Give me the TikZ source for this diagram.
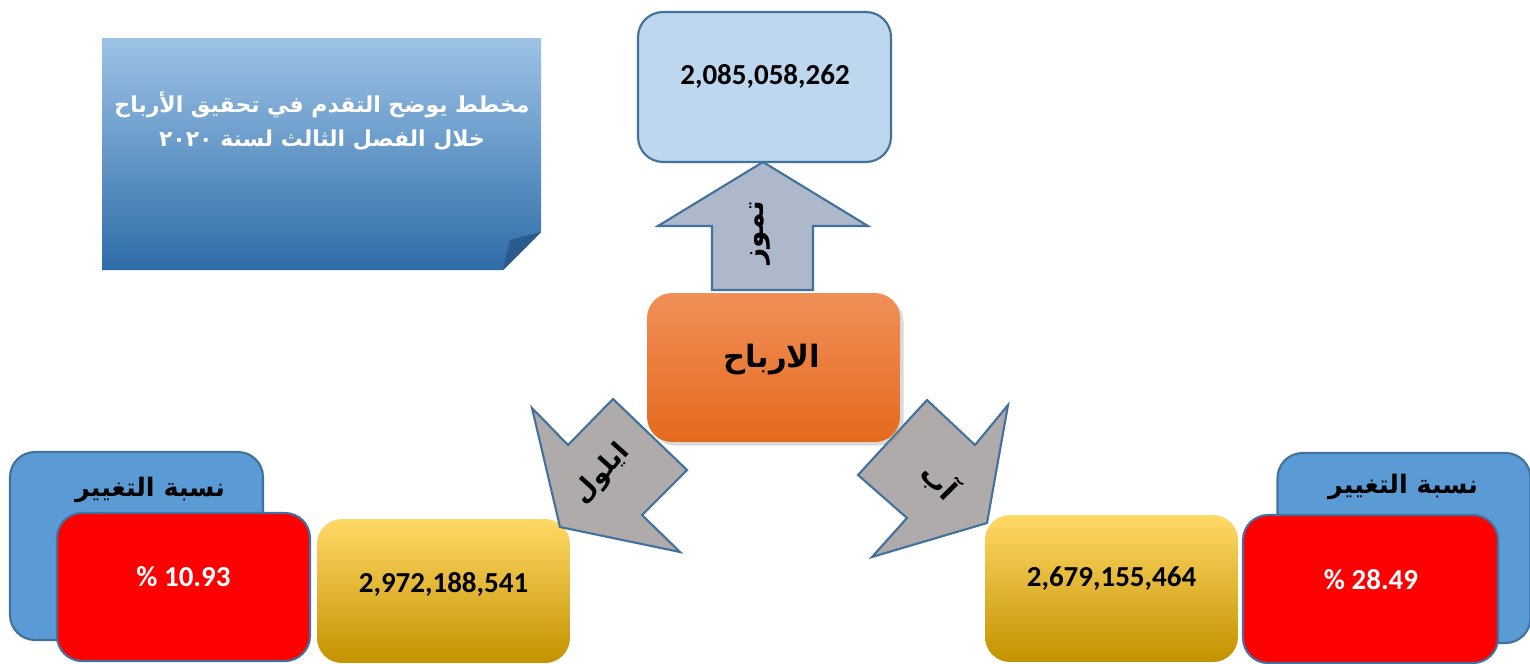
\documentclass[tikz,border=0pt]{standalone}
\usepackage{fontspec}
\setmainfont{Carlito}
\newfontfamily\arabicfont[Script=Arabic]{DejaVu Sans}
\TeXXeTstate=1
\usetikzlibrary{shadows}
\definecolor{edgeblue}{RGB}{65,113,156}
\definecolor{paleblue}{RGB}{189,215,238}
\definecolor{tagblue}{RGB}{91,155,213}
\definecolor{uparrow}{RGB}{173,185,202}
\definecolor{sidearrow}{RGB}{175,171,171}
\definecolor{orangetop}{RGB}{241,143,88}
\definecolor{orangemid}{RGB}{243,124,45}
\definecolor{orangebot}{RGB}{228,106,28}
\definecolor{goldtop}{RGB}{255,217,102}
\definecolor{goldmid}{RGB}{255,194,10}
\definecolor{goldbot}{RGB}{196,146,0}
\definecolor{titletop}{RGB}{157,195,230}
\definecolor{titlebot}{RGB}{46,108,168}
\definecolor{titlefold}{RGB}{43,90,140}
\begin{document}
\begin{tikzpicture}[x=0.02cm, y=-0.02cm,
  box/.style={draw=edgeblue, line width=1.2pt, rounded corners=0.5cm,
    minimum width=5.06cm, minimum height=3cm, inner sep=0pt},
  goldbox/.style={rounded corners=0.5cm, minimum width=5.06cm, minimum height=2.88cm,
    inner sep=0pt, top color=goldtop, middle color=goldmid, bottom color=goldbot},
  num/.style={font=\bfseries\fontsize{16.5}{20}\selectfont},
  pct/.style={font=\bfseries\fontsize{16.5}{20}\selectfont, text=white},
  artxt/.style={font=\arabicfont\bfseries\fontsize{#1}{19}\selectfont},
  arrowshape/.style={draw=edgeblue, line width=1.2pt, line join=miter}]
  \useasboundingbox (0,0) rectangle (1530,663);

  \shade[top color=titletop, bottom color=titlebot]
    (102,38) -- (541,38) -- (541,232) -- (503,270) -- (102,270) -- cycle;
  \fill[titlefold] (503,270) -- (541,232) -- (510,240) -- cycle;
  \node[artxt=12.5, text=white, align=center] (title) at (322,121)
    {\beginR مخطط يوضح التقدم في تحقيق الأرباح\endR\\
     \beginR خلال الفصل الثالث لسنة ٢٠٢٠\endR};

  \node[box, fill=paleblue, minimum height=3cm] (july) at (764.5,87) {};
  \node[num] (julyval) at (765,76) {2,085,058,262};

  \node[box, fill=tagblue, minimum height=3.76cm] (ltag) at (136.5,546) {};
  \node[artxt=14.5] (ltagtxt) at (150,490) {\beginR نسبة التغيير\endR};
  \node[box, fill=red, minimum height=2.96cm] (lred) at (183.5,587) {};
  \node[pct] (lpct) at (183.5,577) {\% 10.93};

  \node[box, fill=tagblue, minimum height=3.8cm] (rtag) at (1404,548) {};
  \node[artxt=14.5] (rtagtxt) at (1403,487) {\beginR نسبة التغيير\endR};
  \node[box, fill=red, minimum width=5.1cm, minimum height=2.96cm] (rred) at (1370.5,589) {};
  \node[pct] (rpct) at (1371,580) {\% 28.49};

  \node[goldbox] (sept) at (443.5,591) {};
  \node[num] (septval) at (443.5,584) {2,972,188,541};
  \node[goldbox, minimum height=2.94cm] (aug) at (1111.5,588.5) {};
  \node[num] (augval) at (1111.5,579) {2,679,155,464};

  \draw[arrowshape, fill=uparrow] (763,162) -- (868,226) -- (813,226) -- (813,290)
    -- (712,290) -- (712,226) -- (658,226) -- cycle;
  \node[artxt=16, rotate=90] (julylbl) at (760,233) {\beginR تموز\endR};

  \draw[arrowshape, fill=sidearrow] (560,527) -- (532,408) -- (568,445) -- (613,399)
    -- (687,470) -- (642,515) -- (680,552) -- cycle;
  \node[artxt=15, rotate=48] (septlbl) at (602,474) {\beginR ايلول\endR};

  \draw[arrowshape, fill=sidearrow] (858,475) -- (927,400) -- (975,445) -- (1008,405)
    -- (987,523) -- (872,557) -- (907,518) -- cycle;
  \node[artxt=16, rotate=-45] (auglbl) at (940,481) {\beginR آب\endR};

  \node[rounded corners=0.5cm, minimum width=5.06cm, minimum height=2.98cm,
    top color=orangetop, middle color=orangemid, bottom color=orangebot,
    drop shadow={shadow xshift=2pt, shadow yshift=-2pt, opacity=0.3}] (profit) at (773.5,367.5) {};
  \node[artxt=17.5] (profittxt) at (772,360) {\beginR الارباح\endR};
\end{tikzpicture}
\end{document}
